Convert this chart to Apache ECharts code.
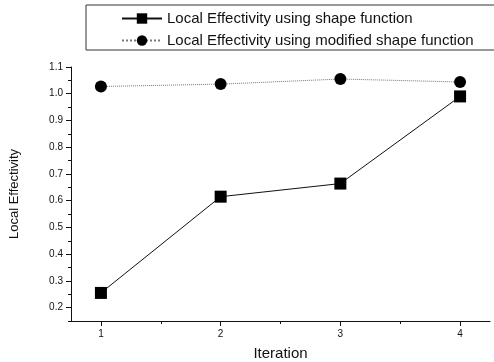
<!DOCTYPE html>
<html><head><meta charset="utf-8">
<script src="https://cdn.jsdelivr.net/npm/echarts@6/dist/echarts.min.js"></script>
<style>html,body{margin:0;padding:0;background:#fff}#c{width:494px;height:362px}</style>
</head><body><div id="c"></div>
<script>
var iterations = [1, 2, 3, 4];
var shapeFn = [0.255, 0.615, 0.664, 0.99];
var modShapeFn = [1.027, 1.036, 1.055, 1.044];
var yMajorTicks = [0.2, 0.3, 0.4, 0.5, 0.6, 0.7, 0.8, 0.9, 1.0, 1.1];
var yMinorTicks = [0.15, 0.25, 0.35, 0.45, 0.55, 0.65, 0.75, 0.85, 0.95, 1.05];
var xMajorTicks = [1, 2, 3, 4];
var xMinorTicks = [1.5, 2.5, 3.5];
var seriesNames = ['Local Effectivity using shape function', 'Local Effectivity using modified shape function'];

var font = 'Liberation Sans, Arial, sans-serif';
var chart = echarts.init(document.getElementById('c'));
chart.setOption({
  animation: false,
  backgroundColor: '#fff',
  grid: {left: 71, right: 4, top: 67, bottom: 41, outerBoundsMode: 'none', containLabel: false},
  graphic: [{type: 'rect', shape: {x: 86, y: 5, width: 420, height: 45}, style: {fill: 'none', stroke: '#333', lineWidth: 1}}],
  legend: {
    orient: 'vertical', left: 116, top: 6, itemGap: 7, itemWidth: 40, itemHeight: 13,
    textStyle: {fontFamily: font, fontSize: 15, color: '#111'},
    data: seriesNames
  },
  xAxis: [{
    type: 'value', min: 0.75, max: 4.25, name: 'Iteration', nameLocation: 'middle', nameGap: 25,
    nameTextStyle: {fontFamily: font, fontSize: 15, color: '#111'},
    axisLine: {show: true, lineStyle: {color: '#111'}},
    splitLine: {show: false},
    axisTick: {show: true, length: 5, customValues: xMajorTicks, lineStyle: {color: '#111'}},
    axisLabel: {customValues: xMajorTicks, fontFamily: font, fontSize: 10, color: '#111', margin: 8}
  }, {
    type: 'value', min: 0.75, max: 4.25, position: 'bottom',
    axisLine: {show: false}, splitLine: {show: false},
    axisTick: {show: true, length: 3, customValues: xMinorTicks, lineStyle: {color: '#111'}},
    axisLabel: {show: false}
  }],
  yAxis: [{
    type: 'value', min: 0.15, max: 1.1, name: 'Local Effectivity', nameLocation: 'middle', nameGap: 50,
    nameTextStyle: {fontFamily: font, fontSize: 13, color: '#111'},
    axisLine: {show: true, lineStyle: {color: '#111'}},
    splitLine: {show: false},
    axisTick: {show: true, length: 5, customValues: yMajorTicks, lineStyle: {color: '#111'}},
    axisLabel: {customValues: yMajorTicks, fontFamily: font, fontSize: 10, color: '#111', margin: 8,
      formatter: function (v) { return v.toFixed(1); }}
  }, {
    type: 'value', min: 0.15, max: 1.1, position: 'left',
    axisLine: {show: false}, splitLine: {show: false},
    axisTick: {show: true, length: 3, customValues: yMinorTicks, lineStyle: {color: '#111'}},
    axisLabel: {show: false}
  }],
  series: [{
    name: seriesNames[0], type: 'line', xAxisIndex: 0, yAxisIndex: 0,
    data: iterations.map(function (x, i) { return [x, shapeFn[i]]; }),
    symbol: 'rect', symbolSize: 12,
    itemStyle: {color: '#000'}, lineStyle: {color: '#111', width: 1}
  }, {
    name: seriesNames[1], type: 'line', xAxisIndex: 0, yAxisIndex: 0,
    data: iterations.map(function (x, i) { return [x, modShapeFn[i]]; }),
    symbol: 'circle', symbolSize: 12,
    itemStyle: {color: '#000'}, lineStyle: {color: '#777', width: 1, type: 'dotted'}
  }]
});
</script></body></html>
